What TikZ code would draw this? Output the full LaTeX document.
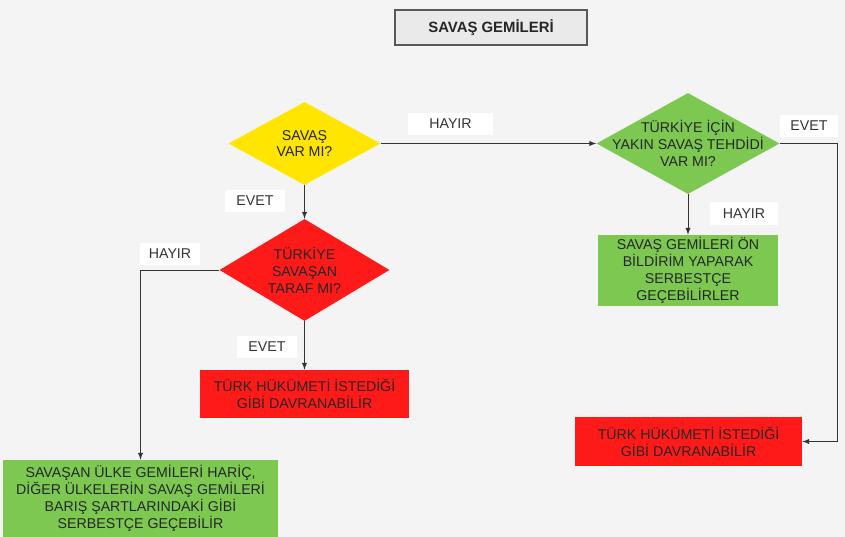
\documentclass[tikz,border=0pt]{standalone}
\usepackage{fontspec}
\setmainfont{Liberation Sans}
\usetikzlibrary{arrows,shapes.geometric}
\definecolor{bggray}{HTML}{F4F4F4}
\definecolor{titlegray}{HTML}{EAEAEA}
\definecolor{qyellow}{HTML}{FFE500}
\definecolor{qred}{HTML}{FF1A1A}
\definecolor{qgreen}{HTML}{7CC850}
\definecolor{linegray}{HTML}{333333}

\begin{document}
\begin{tikzpicture}[>=latex,x=0.025cm,y=-0.025cm,
    font=\fontsize{10.1}{12}\selectfont,
    box/.style={rectangle,inner sep=0pt,align=center,text=black!85},
    quest/.style={diamond,inner sep=0pt,text=black!85},
    tag/.style={rectangle,fill=white,inner sep=0pt,minimum height=0.55cm,text=black!80},
    link/.style={->,draw=linegray,line width=0.7pt}]
    % background
    \fill[bggray] (0,0) rectangle (845,537);
    \useasboundingbox (0,0) rectangle (845,537);
    % title
    \node[box,fill=titlegray,draw=black!65,line width=0.8pt,minimum width=4.8cm,minimum height=0.875cm,
      font=\fontsize{10.6}{12}\selectfont\bfseries] (title) at (491,27.5) {SAVAŞ GEMİLERİ};
    % questions
    \node[quest,fill=qyellow,minimum width=3.8cm,minimum height=2.075cm,
      label={[align=center,text=black!85]center:SAVAŞ\\VAR MI?}] (savas) at (304.5,143.5) {};
    \node[quest,fill=qred,minimum width=4.25cm,minimum height=2.55cm,
      label={[align=center,text=black!85]center:TÜRKİYE\\SAVAŞAN\\TARAF MI?}] (taraf) at (304.5,270) {};
    \node[quest,fill=qgreen,minimum width=4.575cm,minimum height=2.525cm,
      label={[align=center,text=black!85]center:TÜRKİYE İÇİN\\YAKIN SAVAŞ TEHDİDİ\\VAR MI?}] (tehdit) at (688,143.5) {};
    % answers
    \node[box,fill=qred,minimum width=5.2cm,minimum height=1.2cm] (hukumetA) at (304.5,394)
      {TÜRK HÜKÜMETİ İSTEDİĞİ\\GİBİ DAVRANABİLİR};
    \node[box,fill=qgreen,minimum width=6.875cm,minimum height=1.925cm] (baris) at (140.5,498.5)
      {SAVAŞAN ÜLKE GEMİLERİ HARİÇ,\\DİĞER ÜLKELERİN SAVAŞ GEMİLERİ\\BARIŞ ŞARTLARINDAKİ GİBİ\\SERBESTÇE GEÇEBİLİR};
    \node[box,fill=qgreen,minimum width=4.475cm,minimum height=1.775cm] (bildirim) at (688,270.5)
      {SAVAŞ GEMİLERİ ÖN\\BİLDİRİM YAPARAK\\SERBESTÇE\\GEÇEBİLİRLER};
    \node[box,fill=qred,minimum width=5.675cm,minimum height=1.225cm] (hukumetB) at (688.5,441.5)
      {TÜRK HÜKÜMETİ İSTEDİĞİ\\GİBİ DAVRANABİLİR};
    % connectors
    \draw[link] (savas.east) -- (tehdit.west);
    \draw[link] (savas.south) -- (taraf.north);
    \draw[link] (taraf.south) -- (hukumetA.north);
    \draw[link] (taraf.west) -| (baris.north);
    \draw[link] (tehdit.south) -- (bildirim.north);
    \draw[link] (tehdit.east) -- ++(58,0) |- (hukumetB.east);
    % labels
    \node[tag,minimum width=2.125cm] (hayir1) at (450.5,124) {HAYIR};
    \node[tag,minimum width=1.45cm] (evet1) at (809,126) {EVET};
    \node[tag,minimum width=1.7cm] (hayir2) at (744,213.5) {HAYIR};
    \node[tag,minimum width=1.5cm] (evet2) at (255,201) {EVET};
    \node[tag,minimum width=1.5cm] (hayir3) at (170,254) {HAYIR};
    \node[tag,minimum width=1.5cm] (evet3) at (267,347) {EVET};
\end{tikzpicture}
\end{document}
